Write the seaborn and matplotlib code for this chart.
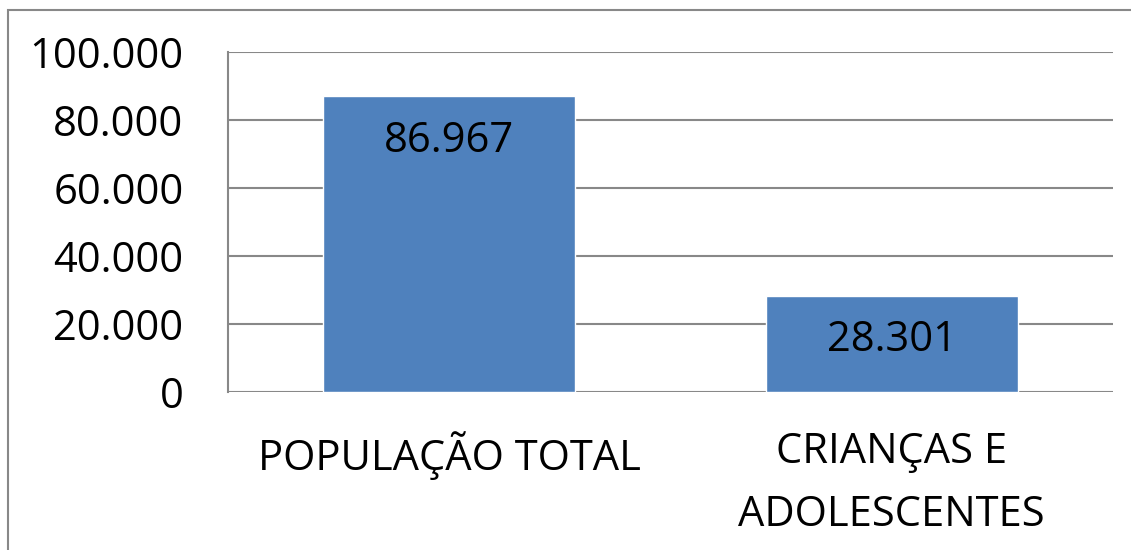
import matplotlib.pyplot as plt
import seaborn as sns
import pandas as pd
from matplotlib.patches import Rectangle
from matplotlib.ticker import FuncFormatter

# data
categories = ['POPULAÇÃO TOTAL', 'CRIANÇAS E\nADOLESCENTES']
values = [86967, 28301]
labels = ['86.967', '28.301']

df = pd.DataFrame({'grupo': categories, 'pop': values})

sns.set_theme(style='white')
plt.rcParams['font.family'] = ['Open Sans', 'DejaVu Sans']

fig = plt.figure(figsize=(11.31, 5.5), dpi=100)
ax = fig.add_axes([228 / 1131, 158 / 550, 885 / 1131, 340 / 550])

# outer frame of the chart area
fig.patches.append(Rectangle((8 / 1131, -0.05), 1.1, (540 / 550) + 0.05,
                             transform=fig.transFigure, fill=False,
                             edgecolor='#888888', linewidth=1.5))

sns.barplot(data=df, x='grupo', y='pop', color='#4F81BD', saturation=1,
            width=0.57, ax=ax, zorder=3)

ax.set_ylim(0, 100000)
ax.set_yticks(range(0, 100001, 20000))
ax.yaxis.set_major_formatter(FuncFormatter(lambda v, p: f'{int(v):,}'.replace(',', '.')))
ax.grid(axis='y', color='#888888', linewidth=1.5, zorder=0)
ax.set_xlabel('')
ax.set_ylabel('')

for s in ['top', 'right', 'bottom']:
    ax.spines[s].set_visible(False)
ax.spines['left'].set_color('#888888')
ax.spines['left'].set_linewidth(1.5)

ax.tick_params(axis='y', length=0, pad=32, labelsize=30, labelcolor='black')
ax.tick_params(axis='x', length=0, pad=28, labelsize=30, labelcolor='black')
for t in ax.get_xticklabels():
    t.set_linespacing(1.65)

for i, (v, lab) in enumerate(zip(values, labels)):
    ax.annotate(lab, (i, v), xytext=(0, -32), textcoords='offset points',
                ha='center', va='center', fontsize=30, color='black')

fig.savefig('out.png', dpi=100)
